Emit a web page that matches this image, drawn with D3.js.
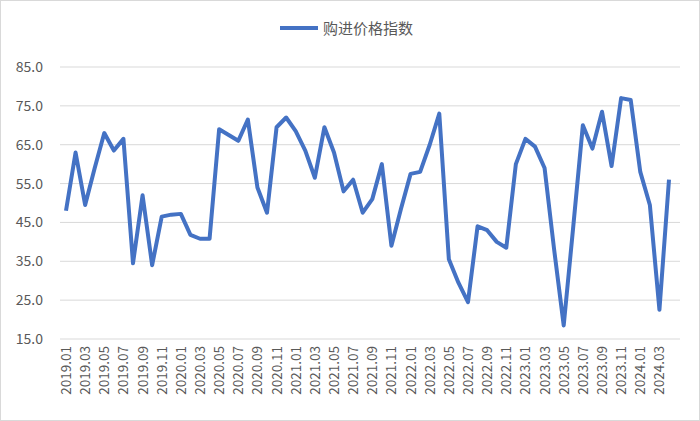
<!DOCTYPE html><html><head><meta charset="utf-8"><script src="https://d3js.org/d3.v7.min.js"></script>
<style>body{margin:0;background:#fff}</style></head><body><svg id="c" width="700" height="421"></svg><script>
const categories=[];
for(let y=2019;y<=2024;y++){for(let m=1;m<=12;m++){if(y===2024&&m>4)break;categories.push(y+"."+String(m).padStart(2,"0"));}}
const values=[48,63,49.5,59,68,63.5,66.5,34.5,52,34,46.5,47,
47.2,41.8,40.8,40.8,69,67.5,66,71.5,54,47.5,69.5,72,
68.5,63.5,56.5,69.5,63,53,56,47.5,51,60,39,48.5,
57.5,58,65,73,35.5,29.5,24.5,44,43,40,38.5,60,
66.5,64.5,59,38,18.5,44,70,64,73.5,59.5,77,76.5,
58,49.5,22.5,56];
const yTicks=[15,25,35,45,55,65,75,85];
const seriesName="购进价格指数";
const svg=d3.select("#c");
svg.append("rect").attr("x",0.5).attr("y",0.5).attr("width",699).attr("height",420).attr("fill","#fff").attr("stroke","#d9d9d9");
const L=60,R=680,T=67,B=339;
const x=d3.scalePoint().domain(categories).range([66,669]);
const y=d3.scaleLinear().domain([15,85]).range([B,T]);
const font="'Microsoft YaHei','Noto Sans CJK SC','DejaVu Sans',sans-serif";
svg.append("g").selectAll("line").data(yTicks).join("line").attr("x1",L).attr("x2",R).attr("y1",d=>y(d)).attr("y2",d=>y(d)).attr("stroke","#d9d9d9").attr("stroke-width",1);
svg.append("g").selectAll("text").data(yTicks).join("text").attr("x",L-17).attr("y",d=>y(d)+5).attr("text-anchor","end").attr("fill","#595959").attr("font-size",14).attr("font-family",font).text(d=>d.toFixed(1));
svg.append("g").selectAll("text").data(categories.filter((d,i)=>i%2===0)).join("text")
 .attr("transform",d=>`translate(${x(d)+5},${B+7}) rotate(-90)`).attr("text-anchor","end").attr("fill","#595959").attr("font-size",13.5).attr("font-family",font).text(d=>d);
svg.append("path").datum(values).attr("fill","none").attr("stroke","#4472C4").attr("stroke-width",4).attr("stroke-linejoin","round")
 .attr("d",d3.line().x((d,i)=>x(categories[i])).y(d=>y(d)));
svg.append("line").attr("x1",280).attr("x2",318).attr("y1",28).attr("y2",28).attr("stroke","#4472C4").attr("stroke-width",4);
svg.append("text").attr("x",323).attr("y",34).attr("fill","#595959").attr("font-size",15).attr("font-family",font).text(seriesName);
</script></body></html>
